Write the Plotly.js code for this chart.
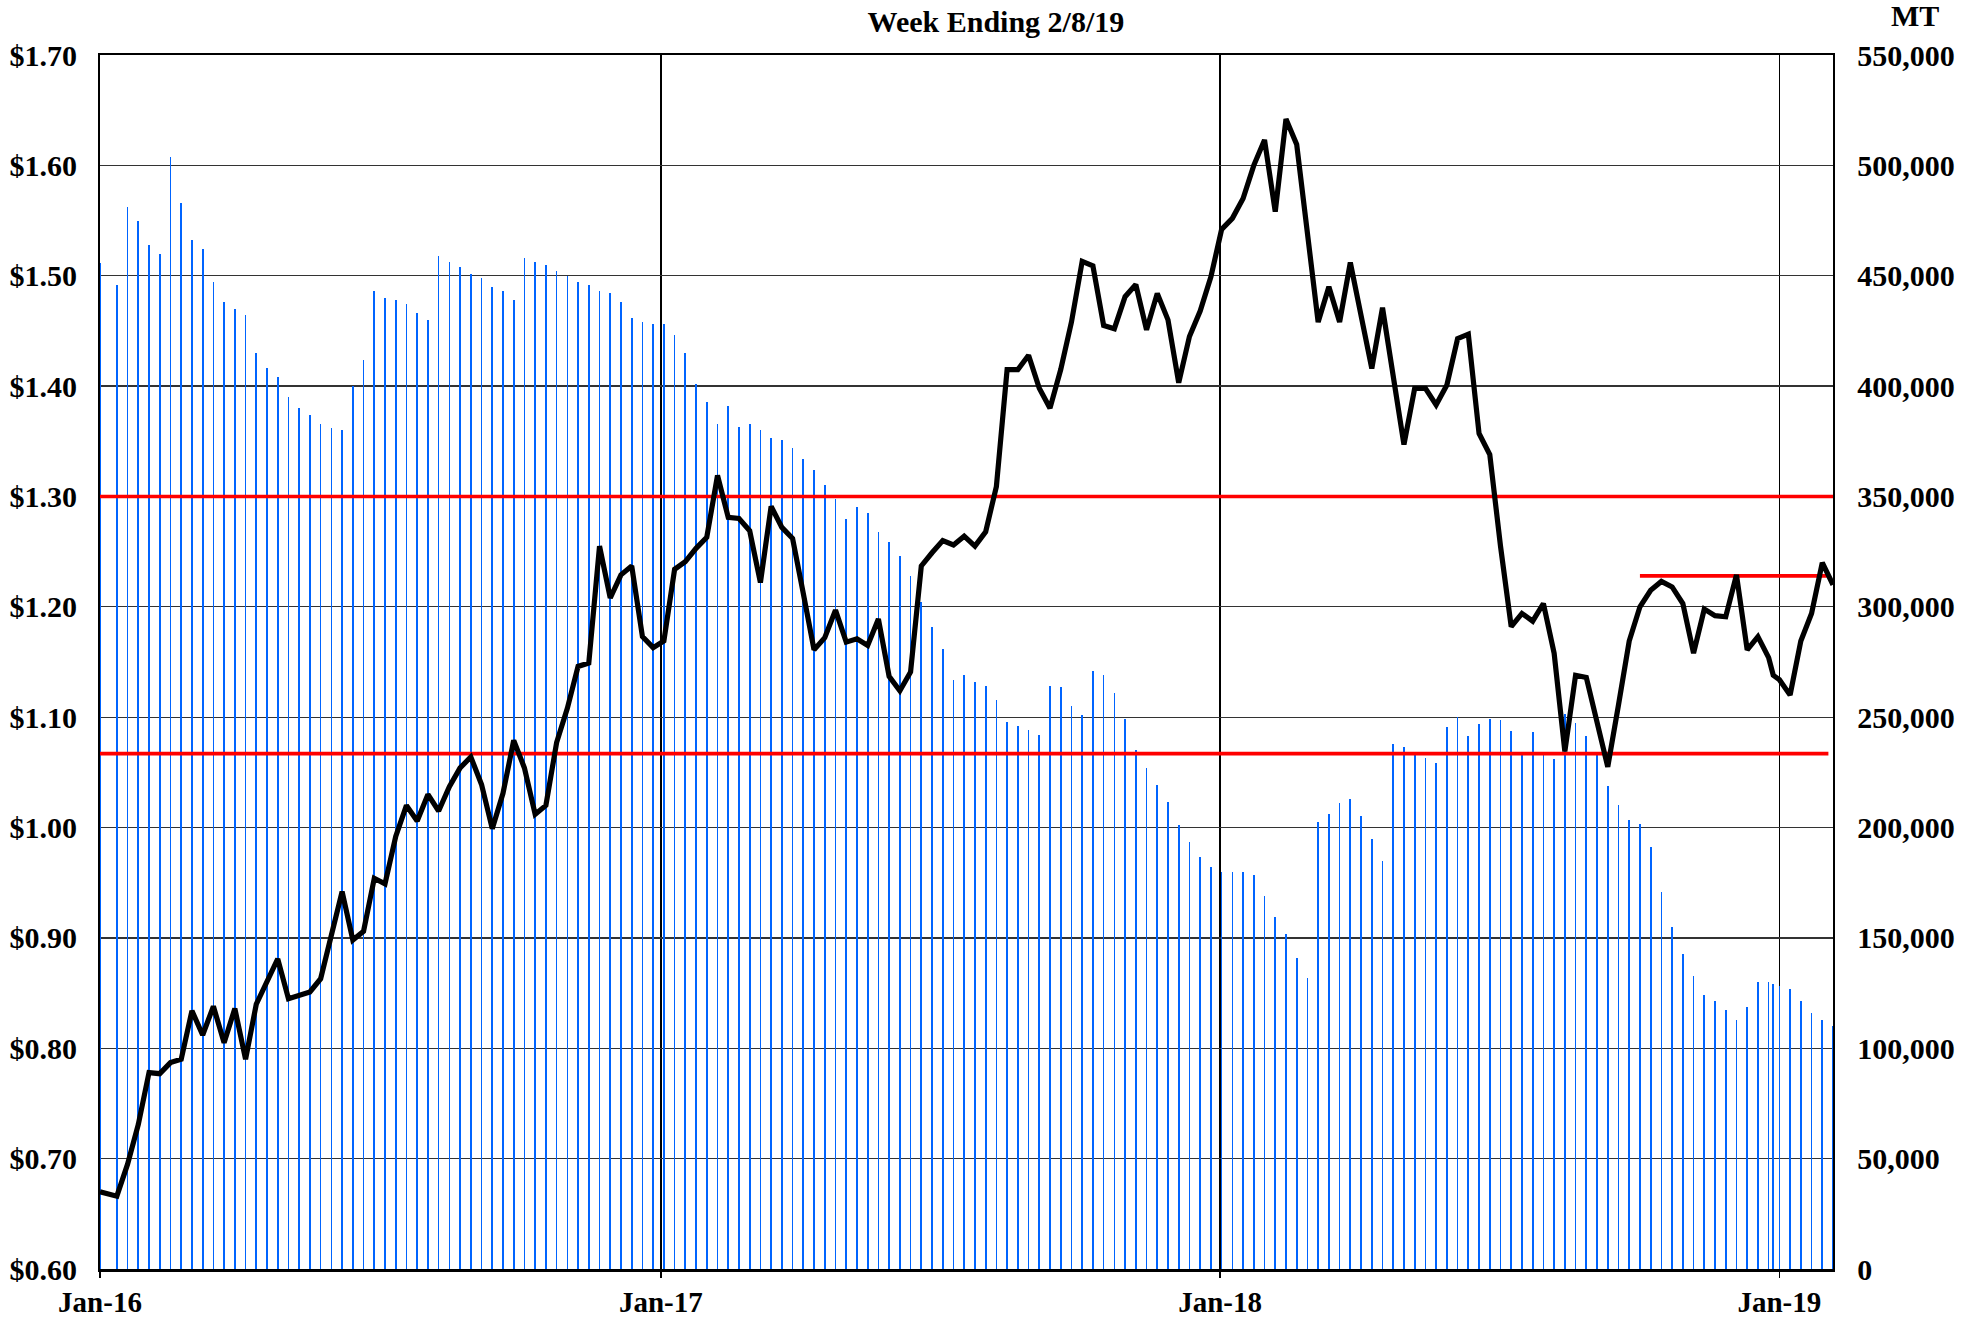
<!DOCTYPE html>
<html>
<head>
<meta charset="utf-8">
<script src="https://cdn.plot.ly/plotly-3.0.1.min.js"></script>
<style>
  html, body { margin: 0; padding: 0; background: #fff; }
  #chart { width: 1980px; height: 1320px; }
</style>
</head>
<body>
<div id="chart"></div>
<script>
// ---- Data (week-ending dates) ----
const weeks2016 = ['2016-01-04',
  '2016-01-15','2016-01-22','2016-01-29','2016-02-05','2016-02-12','2016-02-19','2016-02-26',
  '2016-03-04','2016-03-11','2016-03-18','2016-03-25','2016-04-01','2016-04-08','2016-04-15',
  '2016-04-22','2016-04-29','2016-05-06','2016-05-13','2016-05-20','2016-05-27','2016-06-03',
  '2016-06-10','2016-06-17','2016-06-24','2016-07-01','2016-07-08','2016-07-15','2016-07-22',
  '2016-07-29','2016-08-05','2016-08-12','2016-08-19','2016-08-26','2016-09-02','2016-09-09',
  '2016-09-16','2016-09-23','2016-09-30','2016-10-07','2016-10-14','2016-10-21','2016-10-28',
  '2016-11-04','2016-11-11','2016-11-18','2016-11-25','2016-12-02','2016-12-09','2016-12-16',
  '2016-12-23','2016-12-30'];
const weeks2017 = [
  '2017-01-06','2017-01-13','2017-01-20','2017-01-27','2017-02-03','2017-02-10','2017-02-17',
  '2017-02-24','2017-03-03','2017-03-10','2017-03-17','2017-03-24','2017-03-31','2017-04-07',
  '2017-04-14','2017-04-21','2017-04-28','2017-05-05','2017-05-12','2017-05-19','2017-05-26',
  '2017-06-02','2017-06-09','2017-06-16','2017-06-23','2017-06-30','2017-07-07','2017-07-14',
  '2017-07-21','2017-07-28','2017-08-04','2017-08-11','2017-08-18','2017-08-25','2017-09-01',
  '2017-09-08','2017-09-15','2017-09-22','2017-09-29','2017-10-06','2017-10-13','2017-10-20',
  '2017-10-27','2017-11-03','2017-11-10','2017-11-17','2017-11-24','2017-12-01','2017-12-08',
  '2017-12-15','2017-12-22','2017-12-29'];
const weeks2018 = [
  '2018-01-05','2018-01-12','2018-01-19','2018-01-26','2018-02-02','2018-02-09','2018-02-16',
  '2018-02-23','2018-03-02','2018-03-09','2018-03-16','2018-03-23','2018-03-30','2018-04-06',
  '2018-04-13','2018-04-20','2018-04-27','2018-05-04','2018-05-11','2018-05-18','2018-05-25',
  '2018-06-01','2018-06-08','2018-06-15','2018-06-22','2018-06-29','2018-07-06','2018-07-13',
  '2018-07-20','2018-07-27','2018-08-03','2018-08-10','2018-08-17','2018-08-24','2018-08-31',
  '2018-09-07','2018-09-14','2018-09-21','2018-09-28','2018-10-05','2018-10-12','2018-10-19',
  '2018-10-26','2018-11-02','2018-11-09','2018-11-16','2018-11-23','2018-11-30','2018-12-07',
  '2018-12-14','2018-12-21','2018-12-28','2018-12-31'];
const weeks2019 = ['2019-01-04','2019-01-11','2019-01-18','2019-01-25','2019-02-01','2019-02-08'];

// Stocks, metric tons (bars, right axis)
const stocks2016 = [455600,446000,481000,475000,464000,460000,504000,483000,466000,462000,
  447000,438000,435000,432000,415000,408000,404000,395000,390000,387000,
  383000,381000,380000,400000,412000,443000,440000,439000,437000,433000,
  430000,459000,456000,454000,451000,449000,445000,443000,439000,458000,
  456000,455000,452000,450000,447000,446000,443000,442000,438000,431000,
  429000,428000];
const stocks2017 = [428000,423000,415000,401000,393000,383000,391000,381500,383000,380000,
  376500,375800,372000,367000,362000,355000,349000,340000,345000,342500,
  334000,329500,323000,314000,302000,291000,281000,267000,269000,266000,
  264000,258000,248000,246000,244000,242000,264000,263500,255000,251000,
  271000,269000,261000,249000,235000,227000,219500,211500,201000,193500,
  186500,182000];
const stocks2018 = [180000,180000,180000,178300,168800,159700,151900,141000,131800,202700,
  206100,211100,212900,205300,194700,184800,237900,236400,234200,231400,
  229200,245600,249900,241500,247000,249200,248900,243800,232900,243100,
  234200,231000,251400,247300,241500,232900,218900,210000,203500,201500,
  191000,171000,154900,142500,132800,124200,121400,117300,112900,118800,
  130100,130200,129100];
const stocks2019 = [128300,126700,121500,116200,112900,109900];

// Price, $ (line, left axis)
const price2016 = [0.670,0.666,0.695,0.731,0.778,0.777,0.787,0.790,0.834,0.812,
  0.838,0.805,0.836,0.790,0.840,0.861,0.881,0.845,0.848,0.851,
  0.863,0.904,0.942,0.898,0.906,0.954,0.949,0.992,1.020,1.006,
  1.030,1.015,1.037,1.054,1.064,1.039,0.999,1.031,1.079,1.054,
  1.012,1.020,1.077,1.108,1.146,1.149,1.255,1.208,1.229,1.237,
  1.173,1.163];
const price2017 = [1.169,1.234,1.241,1.253,1.263,1.319,1.281,1.280,1.269,1.222,
  1.291,1.272,1.262,1.212,1.161,1.172,1.197,1.168,1.171,1.165,
  1.189,1.137,1.124,1.141,1.237,1.249,1.260,1.256,1.264,1.255,
  1.268,1.309,1.415,1.415,1.428,1.398,1.380,1.415,1.458,1.513,
  1.509,1.455,1.452,1.481,1.492,1.451,1.484,1.460,1.403,1.445,
  1.468,1.499];
const price2018 = [1.542,1.552,1.570,1.600,1.623,1.558,1.642,1.619,1.542,1.458,
  1.490,1.458,1.512,1.464,1.416,1.471,1.409,1.347,1.398,1.398,
  1.383,1.401,1.443,1.447,1.357,1.338,1.255,1.182,1.194,1.187,
  1.203,1.158,1.069,1.138,1.136,1.096,1.055,1.111,1.169,1.200,
  1.215,1.223,1.218,1.203,1.158,1.198,1.192,1.191,1.229,1.161,
  1.173,1.154,1.138];
const price2019 = [1.134,1.120,1.169,1.194,1.240,1.220];

// Red reference levels ($)
const refLevels = [1.30, 1.067, 1.228];
const refStart  = ['2016-01-04', '2016-01-04', '2018-10-05'];
const refEnd    = ['2019-02-08', '2019-02-05', '2019-02-04'];

// Axis ticks
const xTickDates  = ['2016-01-04','2017-01-04','2018-01-04','2019-01-04'];
const xTickLabels = ['Jan-16','Jan-17','Jan-18','Jan-19'];
const chartTitle = 'Week Ending 2/8/19';
const unitLabel = 'MT';

// ---- Build ----
const dates  = weeks2016.concat(weeks2017, weeks2018, weeks2019);
const stocks = stocks2016.concat(stocks2017, stocks2018, stocks2019);
const price  = price2016.concat(price2017, price2018, price2019);

const FONT = {family: 'Liberation Serif, Times New Roman, serif', size: 30, color: '#000', weight: 700};

const traces = [
  {
    type: 'bar', x: dates, y: stocks, xaxis: 'x', yaxis: 'y',
    width: 1.1 * 86400000,
    marker: {color: '#0064FF', line: {width: 0}},
    hoverinfo: 'skip'
  }
];
refLevels.forEach((lv, i) => {
  traces.push({
    type: 'scatter', mode: 'lines', x: [refStart[i], refEnd[i]], y: [lv, lv],
    xaxis: 'x', yaxis: 'y2', line: {color: '#FF0000', width: 3.6}, hoverinfo: 'skip'
  });
});
traces.push({
  type: 'scatter', mode: 'lines', x: dates, y: price, xaxis: 'x', yaxis: 'y2',
  line: {color: '#000', width: 5.2}, hoverinfo: 'skip'
});

const layout = {
  width: 1980, height: 1320,
  paper_bgcolor: '#fff', plot_bgcolor: '#fff',
  margin: {l: 100, r: 147, t: 55, b: 51, pad: 0},
  showlegend: false,
  bargap: 0,
  title: {
    text: chartTitle, font: FONT,
    xref: 'container', x: 0.503, xanchor: 'center',
    yref: 'container', y: 1 - 21 / 1320, yanchor: 'middle'
  },
  xaxis: {
    type: 'date', range: ['2016-01-04', '2019-02-08'],
    tickmode: 'array', tickvals: xTickDates, ticktext: xTickLabels,
    ticks: 'outside', ticklen: 6, tickwidth: 1.5, tickcolor: '#000',
    showgrid: true, gridcolor: '#000', gridwidth: 1.6,
    showline: true, linecolor: '#000', linewidth: 2.5, mirror: true,
    zeroline: false, tickfont: Object.assign({}, FONT, {size: 29}), ticklabelstandoff: 0
  },
  yaxis: {
    range: [0, 550000], tickmode: 'linear', tick0: 0, dtick: 50000,
    tickformat: ',d', side: 'right',
    showgrid: true, gridcolor: '#333', gridwidth: 1.3,
    showline: true, linecolor: '#000', linewidth: 2.2, mirror: true,
    ticks: '', zeroline: false, tickfont: FONT, ticklabelstandoff: 16
  },
  yaxis2: {
    overlaying: 'y', side: 'left',
    range: [0.6, 1.7], tickmode: 'linear', tick0: 0.6, dtick: 0.1,
    tickformat: '.2f', tickprefix: '$',
    showgrid: false, zeroline: false, showline: false,
    ticks: '', tickfont: FONT, ticklabelstandoff: 22
  },
  annotations: [{
    text: unitLabel, xref: 'paper', yref: 'paper',
    x: (1915 - 100) / 1733, y: 1 + (55 - 16) / 1214,
    xanchor: 'center', yanchor: 'middle', showarrow: false, font: FONT
  }]
};

Plotly.newPlot('chart', traces, layout, {displayModeBar: false, staticPlot: true});
</script>
</body>
</html>
